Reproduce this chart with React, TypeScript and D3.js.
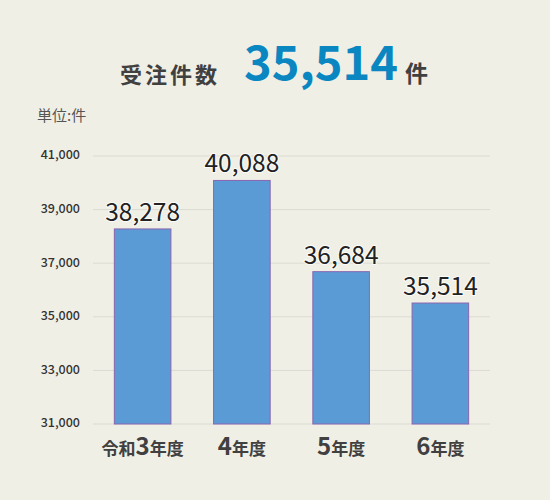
import * as d3 from "d3";

const categories = ["令和3年度", "4年度", "5年度", "6年度"];
const prefixes = ["令和", "", "", ""];
const numerals = ["3", "4", "5", "6"];
const orders = [38278, 40088, 36684, 35514];
const yTicks = [31000, 33000, 35000, 37000, 39000, 41000];

const font = "'Noto Sans CJK JP', 'Noto Sans', sans-serif";
const fmt = d3.format(",");

export default function App() {
  const width = 550;
  const height = 500;

  const x = d3
    .scaleBand<string>()
    .domain(categories)
    .range([93, 490])
    .paddingInner(0.43)
    .paddingOuter(0.215);
  const y = d3.scaleLinear().domain([31000, 41000]).range([424, 156]);

  return (
    <svg
      width={width}
      height={height}
      style={{ position: "absolute", left: 0, top: 0, background: "#f0efe6" }}
      fontFamily={font}
    >
      {/* headline */}
      <text x={120} y={83} fontSize={22} fontWeight={700} fill="#404040" letterSpacing={3}>
        受注件数
      </text>
      <text x={244} y={80} fontSize={47} fontWeight={700} fill="#0a87c1">
        {fmt(orders[orders.length - 1])}
      </text>
      <text x={405} y={82} fontSize={23} fontWeight={700} fill="#404040">
        件
      </text>

      <text x={37} y={121} fontSize={15} fill="#555">
        単位:件
      </text>

      {/* grid + y axis */}
      {yTicks.map((t) => (
        <g key={t}>
          <line x1={93} x2={490} y1={y(t)} y2={y(t)} stroke="#dcdbd3" strokeWidth={1} />
          <text
            x={80}
            y={y(t)}
            textAnchor="end"
            dominantBaseline="middle"
            fontSize={12.5}
            fontWeight={500}
            fill="#333"
          >
            {fmt(t)}
          </text>
        </g>
      ))}

      {/* bars */}
      {categories.map((c, i) => (
        <g key={c}>
          <rect
            x={x(c)!}
            y={y(orders[i])}
            width={x.bandwidth()}
            height={y(31000) - y(orders[i])}
            fill="#5b9bd5"
            stroke="#8a64b0"
            strokeWidth={1}
          />
          <text
            x={x(c)! + x.bandwidth() / 2}
            y={y(orders[i]) - 8}
            textAnchor="middle"
            fontSize={24.5}
            fill="#222"
            stroke="#fff"
            strokeWidth={2}
            strokeOpacity={0.8}
            paintOrder="stroke"
          >
            {fmt(orders[i])}
          </text>
          <text
            x={x(c)! + x.bandwidth() / 2}
            y={455}
            textAnchor="middle"
            fontWeight={700}
            fill="#404040"
          >
            {prefixes[i] && <tspan fontSize={17}>{prefixes[i]}</tspan>}
            <tspan fontSize={24}>{numerals[i]}</tspan>
            <tspan fontSize={17}>年度</tspan>
          </text>
        </g>
      ))}
    </svg>
  );
}
